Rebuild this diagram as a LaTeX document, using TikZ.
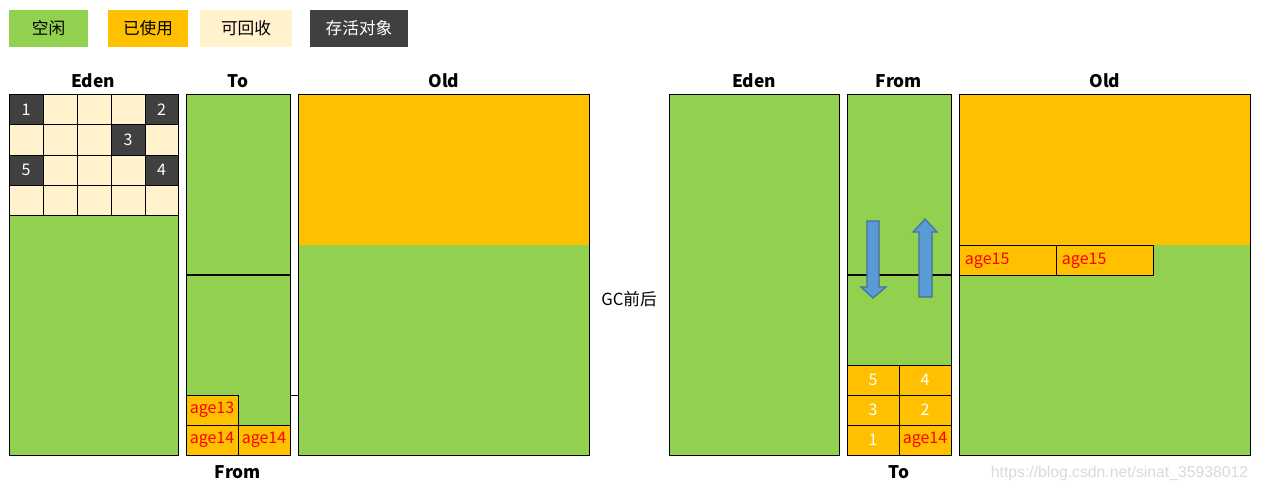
\documentclass[tikz,border=0pt]{standalone}
\usepackage{fontspec}
\setmainfont{Noto Sans CJK SC}
\newfontfamily\wmfont{Liberation Sans}
\definecolor{free}{HTML}{92D050}
\definecolor{used}{HTML}{FFC000}
\definecolor{recl}{HTML}{FFF2CC}
\definecolor{live}{HTML}{404040}
\definecolor{arrowfill}{HTML}{5B9BD5}
\definecolor{arrowline}{HTML}{41719C}
\begin{document}
\begin{tikzpicture}[x=0.75pt,y=-0.75pt,line width=0.75pt,
  legendbox/.style={inner sep=0pt,minimum height=28pt,font=\fontsize{12.5}{14}\selectfont},
  ttl/.style={font=\bfseries\fontsize{13}{15}\selectfont},
  lbl/.style={font=\fontsize{12}{14}\selectfont,text=white},
  agelbl/.style={font=\fontsize{12}{14}\selectfont,text=red},
  blockarrow/.style={fill=arrowfill,draw=arrowline,line width=0.9pt}]
\useasboundingbox (0,0) rectangle (1261,492);

% legend
\node[legendbox,fill=free,minimum width=59.25pt] (lgfree) at (48.5,28.5) {空闲};
\node[legendbox,fill=used,minimum width=60pt] (lgused) at (148,28.5) {已使用};
\node[legendbox,fill=recl,minimum width=69pt] (lgrecl) at (246,28.5) {可回收};
\node[legendbox,fill=live,minimum width=73.5pt,text=white] (lglive) at (359,28.5) {存活对象};

% titles
\node[ttl] (tEdenL) at (93,81) {Eden};
\node[ttl] (tToL) at (238,81) {To};
\node[ttl] (tOldL) at (444,81) {Old};
\node[ttl] (tFromL) at (238,472) {From};
\node[ttl] (tEdenR) at (754,81) {Eden};
\node[ttl] (tFromR) at (899,81) {From};
\node[ttl] (tOldR) at (1105,81) {Old};
\node[ttl] (tToR) at (899,472) {To};

% ---------- left: before GC ----------
% Eden
\fill[free] (9,215) rectangle (178,455);
\foreach \r in {0,1,2,3}{
  \foreach \c/\xa/\xb in {0/9/43,1/43/77,2/77/111,3/111/145,4/145/178}{
    \fill[recl] (\xa,95+30*\r) rectangle (\xb,125+30*\r);
  }
}
\fill[live] (9,95) rectangle (43,125);
\fill[live] (145,95) rectangle (178,125);
\fill[live] (111,125) rectangle (145,155);
\fill[live] (9,155) rectangle (43,185);
\fill[live] (145,155) rectangle (178,185);
\foreach \x in {43,77,111,145} \draw (\x,95) -- (\x,215);
\foreach \y in {125,155,185,215} \draw (9,\y) -- (178,\y);
\draw (9,95) rectangle (178,455);
\node[lbl] (e1) at (26,110) {1};
\node[lbl] (e2) at (161.5,110) {2};
\node[lbl] (e3) at (128,140) {3};
\node[lbl] (e5) at (26,170) {5};
\node[lbl] (e4) at (161.5,170) {4};

% To / From (left)
\fill[free] (186,95) rectangle (290,455);
\fill[used] (186,395) rectangle (238,455);
\fill[used] (238,425) rectangle (290,455);
\draw (186,95) rectangle (290,455);
\draw[line width=1.5pt] (186,275) -- (290,275);
\draw (186,395) rectangle (238,425);
\draw (186,425) rectangle (238,455);
\draw (238,425) rectangle (290,455);
\draw (290,395) -- (298,395);
\node[agelbl] (a13) at (212,410) {age13};
\node[agelbl] (a14a) at (212,440) {age14};
\node[agelbl] (a14b) at (264,440) {age14};

% Old (left)
\fill[used] (298,95) rectangle (589,245);
\fill[free] (298,245) rectangle (589,455);
\draw (298,95) rectangle (589,455);

% middle label
\node[font=\fontsize{12.5}{14}\selectfont] (gc) at (629,299) {GC前后};

% ---------- right: after GC ----------
\fill[free] (669,95) rectangle (839,455);
\draw (669,95) rectangle (839,455);

\fill[free] (847,95) rectangle (951,455);
\fill[used] (847,365) rectangle (951,455);
\draw (847,95) rectangle (951,455);
\draw[line width=1.5pt] (847,275) -- (951,275);
\foreach \y in {365,395,425} \draw (847,\y) -- (951,\y);
\draw (899,365) -- (899,455);
\node[lbl] (r5) at (873,380) {5};
\node[lbl] (r4) at (925,380) {4};
\node[lbl] (r3) at (873,410) {3};
\node[lbl] (r2) at (925,410) {2};
\node[lbl] (r1) at (873,440) {1};
\node[agelbl] (r14) at (925,440) {age14};

% arrows
\draw[blockarrow] (867,221) -- (879,221) -- (879,287) -- (886,287) -- (873,298) -- (861,287) -- (867,287) -- cycle;
\draw[blockarrow] (919,297) -- (932,297) -- (932,232) -- (937,232) -- (925,219) -- (913,232) -- (919,232) -- cycle;

% Old (right)
\fill[used] (959,95) rectangle (1250,245);
\fill[free] (959,245) rectangle (1250,455);
\fill[used] (959,245) rectangle (1153,275);
\draw (959,245) rectangle (1056,275);
\draw (1056,245) rectangle (1153,275);
\draw (959,95) rectangle (1250,455);
\node[agelbl,anchor=west] (o15a) at (960,261) {age15};
\node[agelbl,anchor=west] (o15b) at (1057,261) {age15};

% watermark
\node[font=\wmfont\fontsize{11.8}{13}\selectfont,text=black!15,anchor=east] (wm) at (1253,473) {https://blog.csdn.net/sinat\_35938012};
\end{tikzpicture}
\end{document}
